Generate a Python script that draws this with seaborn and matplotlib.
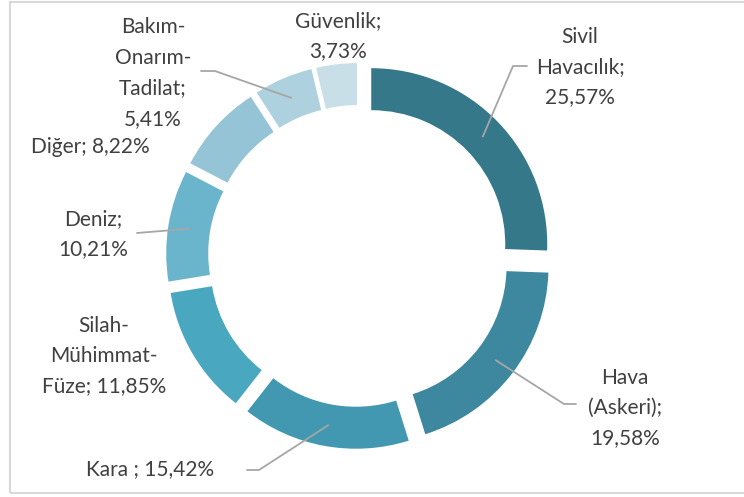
import numpy as np
import matplotlib
matplotlib.use("Agg")
import matplotlib.pyplot as plt
import matplotlib.patches as mpatches
import seaborn as sns

# data (percent shares, clockwise from 12 o'clock)
sectors = ["Sivil\nHavacılık", "Hava\n(Askeri)", "Kara ", "Silah-\nMühimmat-\nFüze",
           "Deniz", "Diğer", "Bakım-\nOnarım-\nTadilat", "Güvenlik"]
shares = [25.57, 19.58, 15.42, 11.85, 10.21, 8.22, 5.41, 3.73]
seps = ["\n", "\n", " ", " ", "\n", " ", "\n", "\n"]
colors = ["#347889", "#3D889E", "#4298B0", "#49A7C0",
          "#6AB5CC", "#94C4D6", "#AED1DF", "#C8DFE8"]

# layout in pixels (origin top-left)
W, H = 744, 497
cx, cy = 359, 256
R, ring = 176, 42
gap = 17
label_pos = [(580, 67), (625, 408), (150, 469), (104, 356),
             (93, 234), (90, 147), (153, 73), (338, 36)]
# leader line: elbow point and end point (None = no leader)
leaders = [((513, 66), (527, 66)), ((564, 404), (576, 404)), ((259, 470), (247, 470)), None,
           ((137, 233), (137, 233)), None, ((215, 71), (201, 71)), None]

sns.set_theme(style="white")
plt.rcParams["font.family"] = ["Lato", "DejaVu Sans"]

fig = plt.figure(figsize=(W / 100, H / 100), dpi=100)
ax = fig.add_axes([0, 0, 1, 1])

pal = sns.color_palette(colors)
wedges, _ = ax.pie(shares, colors=pal, radius=R, center=(cx, H - cy),
                   startangle=90, counterclock=False, explode=[gap] * len(shares),
                   wedgeprops=dict(width=ring, linewidth=0))
ax.set_xlim(0, W)
ax.set_ylim(0, H)
ax.set_aspect("equal")
ax.axis("off")

txt_col = "#404040"
line_col = "#A6A6A6"
for w, name, val, sep, pos, ld in zip(wedges, sectors, shares, seps, label_pos, leaders):
    s = f"{name};{sep}{val:.2f}%".replace(".", ",")
    ax.text(pos[0], H - pos[1], s, ha="center", va="center", multialignment="center",
            fontsize=15, color=txt_col, linespacing=1.65)
    if ld is not None:
        th = np.deg2rad((w.theta1 + w.theta2) / 2)
        rm = R - ring / 2
        ax0, ay0 = w.center[0] + rm * np.cos(th), w.center[1] + rm * np.sin(th)
        (ex, ey), (tx, ty) = ld
        ax.plot([ax0, ex, tx], [ay0, H - ey, H - ty], color=line_col, lw=1.3)

# outer frame
ax.add_patch(mpatches.Rectangle((10, H - 493), 740, 491, fill=False,
                                edgecolor="#D9D9D9", lw=1.5, clip_on=False))

fig.savefig("out.png", dpi=100)
